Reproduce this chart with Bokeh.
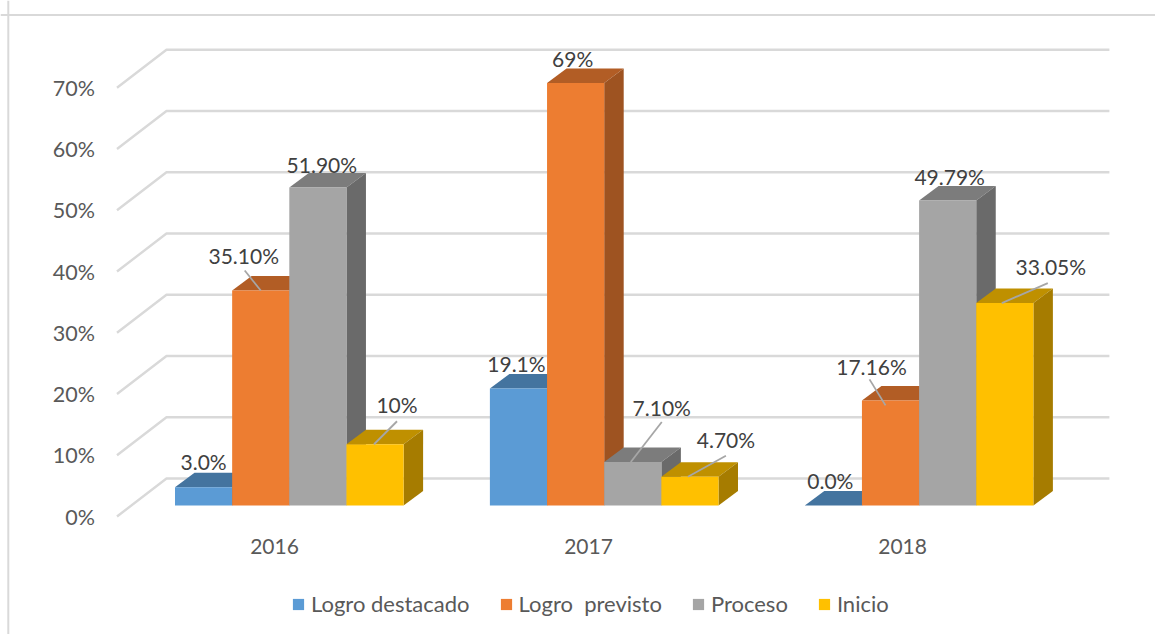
from bokeh.plotting import figure
from bokeh.models import (ColumnDataSource, FixedTicker, Legend, LegendItem, LinearAxis,
                          Range1d, PrintfTickFormatter, Span)
from bokeh.core.properties import value
from bokeh.embed import file_html
from bokeh.resources import INLINE

# ---- data
years = ["2016", "2017", "2018"]
series = ["Logro destacado", "Logro  previsto", "Proceso", "Inicio"]
logro_destacado = [3.0, 19.1, 0.0]
logro_previsto = [35.10, 69.0, 17.16]
proceso = [51.90, 7.10, 49.79]
inicio = [10.0, 4.70, 33.05]
values = [logro_destacado, logro_previsto, proceso, inicio]
labels = [["3.0%", "19.1%", "0.0%"], ["35.10%", "69%", "17.16%"],
          ["51.90%", "7.10%", "49.79%"], ["10%", "4.70%", "33.05%"]]
y_ticks = [0, 10, 20, 30, 40, 50, 60, 70]

# ---- styles
front = ["#5B9BD5", "#ED7D31", "#A5A5A5", "#FFC000"]
top = ["#44749F", "#B25D25", "#7C7C7C", "#BF9000"]
side = ["#376089", "#9E5321", "#6A6A6A", "#A67C00"]
FONT = "Lato"

# ---- layout constants (pixels)
W, H = 1155, 634
UX = 57.15         # px per bar width
UY = 6.125         # px per percentage point
PITCH = 5.51       # bar widths between groups
DX, DY = 19.5 / UX, 14.5 / UY   # bar depth

x0 = -174.5 / UX
y_end = 505 / UY
y_start = y_end - H / UY
TAIL_Y = -1.8

p = figure(width=W, height=H, output_backend="svg", toolbar_location=None,
           x_range=Range1d(x0, x0 + W / UX), y_range=Range1d(y_start, y_end),
           min_border=0, outline_line_color=None, y_axis_location=None,
           background_fill_color="white", border_fill_color="white")
p.grid.visible = False

# ---- chart-area outline
p.add_layout(Span(location=x0 + 7.8 / UX, dimension="height", line_color="#D9D9D9", line_width=2))
p.add_layout(Span(location=y_end - 14.4 / UY, dimension="width", line_color="#D9D9D9", line_width=2))

# ---- walls: tail + back line for every tick
BACK_X, TAIL_X, END_X = -0.149, -1.015, 16.35
BACK_Y = 4.41
p.multi_line(xs=[[TAIL_X, BACK_X, END_X] for _ in y_ticks],
             ys=[[t + TAIL_Y, t + BACK_Y, t + BACK_Y] for t in y_ticks],
             line_color="#D9D9D9", line_width=2.4)

# ---- 3D bars
renderers = []
for s in range(4):
    xl = [g * PITCH + s for g in range(3)]
    v = values[s]
    p.patches(xs=[[x, x + DX, x + 1 + DX, x + 1] for x in xl],
              ys=[[h, h + DY, h + DY, h] for h in v],
              fill_color=top[s], line_color=None)
    p.patches(xs=[[x + 1, x + 1 + DX, x + 1 + DX, x + 1] for x in xl],
              ys=[[0, DY, h + DY, h] for h in v],
              fill_color=side[s], line_color=None)
    renderers.append(p.quad(left=xl, right=[x + 1 for x in xl], bottom=0, top=v,
                            fill_color=front[s], line_color=None))

# ---- data labels, offset in pixels from the bar's top centre
label_dx = [[0, -2, -3], [-17, -3, -19], [4, 29, 2], [22, 36, 46]]
label_dy = [[26, 25, 25], [35, 24, 34], [23, 55, 24], [40, 37, 37]]
# leader lines: (series, group, start dx, start dy, end dx, end dy) in px from top centre
leaders = [(1, 0, -16, 20, 0, 0), (3, 0, 22, 23, -1, 0), (2, 1, 29, 40, -2, 0),
           (3, 1, 36, 21, -2, 0), (1, 2, -21, 21, -5, 5), (3, 2, 43, 20, -3, 0)]
centre = lambda s, g: g * PITCH + s + 0.5
p.segment(x0=[centre(s, g) + a / UX for s, g, a, b, c, d in leaders],
          y0=[values[s][g] + b / UY for s, g, a, b, c, d in leaders],
          x1=[centre(s, g) + c / UX for s, g, a, b, c, d in leaders],
          y1=[values[s][g] - d / UY for s, g, a, b, c, d in leaders],
          line_color="#A6A6A6", line_width=1.8)
src = ColumnDataSource(dict(
    x=[centre(s, g) for s in range(4) for g in range(3)],
    y=[values[s][g] for s in range(4) for g in range(3)],
    t=[labels[s][g] for s in range(4) for g in range(3)],
    dx=[label_dx[s][g] for s in range(4) for g in range(3)],
    dy=[-label_dy[s][g] for s in range(4) for g in range(3)]))
p.text(x="x", y="y", text="t", x_offset="dx", y_offset="dy", source=src,
       text_font=value(FONT), text_font_size="21px", text_color="#404040",
       text_align="center", text_baseline="middle")

# ---- axes, laid inside the frame with fixed_location
tick_x = [1.741 + g * 5.495 for g in range(3)]
xa = p.xaxis[0]
xa.ticker = FixedTicker(ticks=tick_x)
xa.major_label_overrides = {t: y for t, y in zip(tick_x, years)}
xa.axis_line_color = None
xa.major_tick_line_color = None
xa.minor_tick_line_color = None
xa.major_label_standoff = 5
xa.major_label_text_font = FONT
xa.major_label_text_font_size = "21px"
xa.major_label_text_color = "#595959"
xa.fixed_location = (505 - 527) / UY

p.extra_y_ranges = {"labels": Range1d(y_start - TAIL_Y, y_end - TAIL_Y)}
ya = LinearAxis(y_range_name="labels", ticker=FixedTicker(ticks=y_ticks),
                formatter=PrintfTickFormatter(format="%d%%"))
ya.axis_line_color = None
ya.major_tick_line_color = None
ya.minor_tick_line_color = None
ya.major_label_standoff = 5
ya.major_label_text_font = FONT
ya.major_label_text_font_size = "21.5px"
ya.major_label_text_color = "#595959"
ya.fixed_location = (105.5 - 174.5) / UX
p.add_layout(ya, "left")

# ---- legend
legend = Legend(items=[LegendItem(label=n, renderers=[r]) for n, r in zip(series, renderers)],
                orientation="horizontal", location=(291, 17), glyph_width=14, glyph_height=14,
                label_standoff=6, spacing=29, padding=0, margin=0,
                border_line_color=None, background_fill_alpha=0,
                label_text_font=FONT, label_text_font_size="22px", label_text_color="#595959")
p.add_layout(legend, "center")

open("out.html", "w").write(file_html(p, INLINE))
